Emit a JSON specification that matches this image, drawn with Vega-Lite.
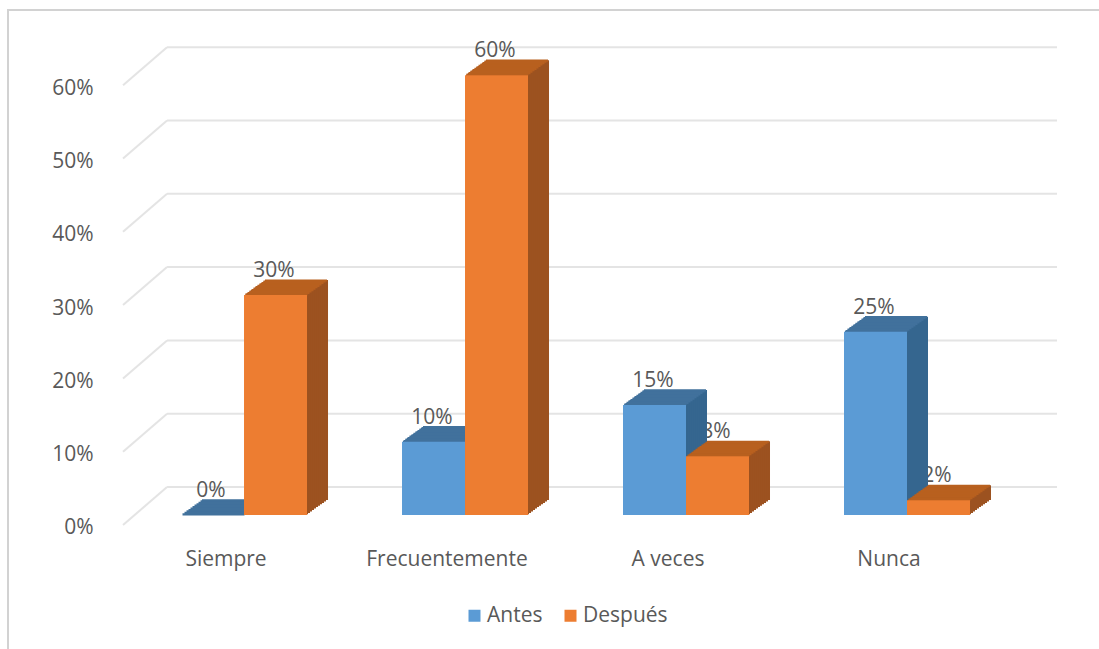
{
"$schema":"https://vega.github.io/schema/vega-lite/v6.json",
"width":1093,"height":641,
"autosize":{"type":"none"},
"padding":{"left":8,"top":10,"right":0,"bottom":0},
"background":"#ffffff",
"config":{"view":{"stroke":"#d2d2d2","strokeWidth":2},"text":{"font":"Open Sans"}},
"datasets":{
"niveles":[{"nivel":0},{"nivel":0.1},{"nivel":0.2},{"nivel":0.3},{"nivel":0.4},{"nivel":0.5},{"nivel":0.6}],
"barras":[
{"categoria":"Siempre","serie":"Antes","valor":0},
{"categoria":"Siempre","serie":"Después","valor":0.3},
{"categoria":"Frecuentemente","serie":"Antes","valor":0.1},
{"categoria":"Frecuentemente","serie":"Después","valor":0.6},
{"categoria":"A veces","serie":"Antes","valor":0.15},
{"categoria":"A veces","serie":"Después","valor":0.08},
{"categoria":"Nunca","serie":"Antes","valor":0.25},
{"categoria":"Nunca","serie":"Después","valor":0.02}
]},
"resolve":{"scale":{"x":"independent"}},
"layer":[
{"data":{"name":"niveles"},
 "encoding":{
  "x":{"datum":0,"type":"quantitative","scale":{"domain":[-0.1787,1.0494],"nice":false,"zero":false},"axis":null},
  "y":{"field":"nivel","type":"quantitative","scale":{"domain":[-0.1719,0.7026],"nice":false,"zero":false}}
 },
 "layer":[
  {"mark":{"type":"rule","stroke":"#e4e4e4","strokeWidth":2,"yOffset":-38},"encoding":{"x2":{"datum":1}}},
  {"mark":{"type":"point","shape":"M0,0L-1,0.864","size":7744,"filled":false,"stroke":"#e4e4e4","strokeWidth":2,"yOffset":-38,"opacity":1}}
 ]},
{"data":{"name":"barras"},
 "encoding":{
  "x":{"field":"categoria","type":"nominal","sort":["Siempre","Frecuentemente","A veces","Nunca"],
   "scale":{"paddingInner":0,"paddingOuter":0.4729,"align":0.5144},
   "axis":{"title":null,"domain":false,"ticks":false,"labelAngle":0,"labelFont":"Open Sans","labelFontSize":21,"labelColor":"#595959","labelPadding":0,"offset":-92,"labelBaseline":"middle"}},
  "y":{"field":"valor","type":"quantitative","stack":null,"scale":{"domain":[-0.1719,0.7026],"nice":false,"zero":false},
   "axis":{"title":null,"domain":false,"ticks":false,"grid":false,"values":[0,0.1,0.2,0.3,0.4,0.5,0.6],"format":".0%","labelFont":"Open Sans","labelFontSize":21,"labelColor":"#595959","labelPadding":0,"offset":-85,"labelOffset":3}}
 },
 "layer":[
  {"mark":{"type":"text","font":"Open Sans","fontSize":21,"fill":"#595959","baseline":"middle","yOffset":-34,"xOffset":{"expr":"datum.serie==='Antes'?-15:48"}},"encoding":{"text":{"field":"valor","type":"quantitative","format":".0%"}}},
  {"encoding":{"y2":{"datum":0},"fill":{"condition":{"test":"datum.serie==='Antes'","value":"#35668f"},"value":"#9c5220"}},
   "layer":[
    {"mark":{"type":"bar","width":63,"xOffset":{"expr":"(datum.serie==='Antes'?-13.5:49.5)+21"},"yOffset":-25,"y2Offset":-25}},
    {"mark":{"type":"bar","width":63,"xOffset":{"expr":"(datum.serie==='Antes'?-13.5:49.5)+19"},"yOffset":-23.6,"y2Offset":-23.6}},
    {"mark":{"type":"bar","width":63,"xOffset":{"expr":"(datum.serie==='Antes'?-13.5:49.5)+17"},"yOffset":-22.1,"y2Offset":-22.1}},
    {"mark":{"type":"bar","width":63,"xOffset":{"expr":"(datum.serie==='Antes'?-13.5:49.5)+15"},"yOffset":-20.7,"y2Offset":-20.7}},
    {"mark":{"type":"bar","width":63,"xOffset":{"expr":"(datum.serie==='Antes'?-13.5:49.5)+13"},"yOffset":-19.3,"y2Offset":-19.3}},
    {"mark":{"type":"bar","width":63,"xOffset":{"expr":"(datum.serie==='Antes'?-13.5:49.5)+11"},"yOffset":-17.9,"y2Offset":-17.9}},
    {"mark":{"type":"bar","width":63,"xOffset":{"expr":"(datum.serie==='Antes'?-13.5:49.5)+9"},"yOffset":-16.4,"y2Offset":-16.4}},
    {"mark":{"type":"bar","width":63,"xOffset":{"expr":"(datum.serie==='Antes'?-13.5:49.5)+7"},"yOffset":-15,"y2Offset":-15}},
    {"mark":{"type":"bar","width":63,"xOffset":{"expr":"(datum.serie==='Antes'?-13.5:49.5)+5"},"yOffset":-13.6,"y2Offset":-13.6}},
    {"mark":{"type":"bar","width":63,"xOffset":{"expr":"(datum.serie==='Antes'?-13.5:49.5)+3"},"yOffset":-12.1,"y2Offset":-12.1}},
    {"mark":{"type":"bar","width":63,"xOffset":{"expr":"(datum.serie==='Antes'?-13.5:49.5)+1"},"yOffset":-10.7,"y2Offset":-10.7}}
   ]},
  {"encoding":{"y2":{"field":"valor"},
    "fill":{"condition":{"test":"datum.serie==='Antes'","value":"#41719c"},"value":"#b8601f"},
    "stroke":{"condition":{"test":"datum.serie==='Antes'","value":"#41719c"},"value":"#b8601f"}},
   "layer":[
    {"mark":{"type":"bar","width":62,"strokeWidth":2.2,"xOffset":{"expr":"(datum.serie==='Antes'?-13.5:49.5)+20.5"},"yOffset":-24.6,"y2Offset":-24.6}},
    {"mark":{"type":"bar","width":62,"strokeWidth":2.2,"xOffset":{"expr":"(datum.serie==='Antes'?-13.5:49.5)+19"},"yOffset":-23.6,"y2Offset":-23.6}},
    {"mark":{"type":"bar","width":62,"strokeWidth":2.2,"xOffset":{"expr":"(datum.serie==='Antes'?-13.5:49.5)+17"},"yOffset":-22.1,"y2Offset":-22.1}},
    {"mark":{"type":"bar","width":62,"strokeWidth":2.2,"xOffset":{"expr":"(datum.serie==='Antes'?-13.5:49.5)+15"},"yOffset":-20.7,"y2Offset":-20.7}},
    {"mark":{"type":"bar","width":62,"strokeWidth":2.2,"xOffset":{"expr":"(datum.serie==='Antes'?-13.5:49.5)+13"},"yOffset":-19.3,"y2Offset":-19.3}},
    {"mark":{"type":"bar","width":62,"strokeWidth":2.2,"xOffset":{"expr":"(datum.serie==='Antes'?-13.5:49.5)+11"},"yOffset":-17.9,"y2Offset":-17.9}},
    {"mark":{"type":"bar","width":62,"strokeWidth":2.2,"xOffset":{"expr":"(datum.serie==='Antes'?-13.5:49.5)+9"},"yOffset":-16.4,"y2Offset":-16.4}},
    {"mark":{"type":"bar","width":62,"strokeWidth":2.2,"xOffset":{"expr":"(datum.serie==='Antes'?-13.5:49.5)+7"},"yOffset":-15,"y2Offset":-15}},
    {"mark":{"type":"bar","width":62,"strokeWidth":2.2,"xOffset":{"expr":"(datum.serie==='Antes'?-13.5:49.5)+5"},"yOffset":-13.6,"y2Offset":-13.6}},
    {"mark":{"type":"bar","width":62,"strokeWidth":2.2,"xOffset":{"expr":"(datum.serie==='Antes'?-13.5:49.5)+3"},"yOffset":-12.1,"y2Offset":-12.1}},
    {"mark":{"type":"bar","width":62,"strokeWidth":2.2,"xOffset":{"expr":"(datum.serie==='Antes'?-13.5:49.5)+1"},"yOffset":-10.7,"y2Offset":-10.7}}
   ]},
  {"mark":{"type":"bar","width":63,"xOffset":{"expr":"datum.serie==='Antes'?-13.5:49.5"},"yOffset":-10,"y2Offset":-10},
   "encoding":{"y2":{"datum":0},"color":{"field":"serie","type":"nominal","sort":["Antes","Después"],"scale":{"domain":["Antes","Después"],"range":["#5b9bd5","#ed7d31"]},
     "legend":{"title":null,"orient":"none","legendX":456,"legendY":595,"direction":"horizontal","symbolType":"square","symbolSize":144,"labelFont":"Open Sans","labelFontSize":21,"labelColor":"#595959","symbolStrokeWidth":0,"columnPadding":17,"labelOffset":2}}}}
 ]}
]
}
